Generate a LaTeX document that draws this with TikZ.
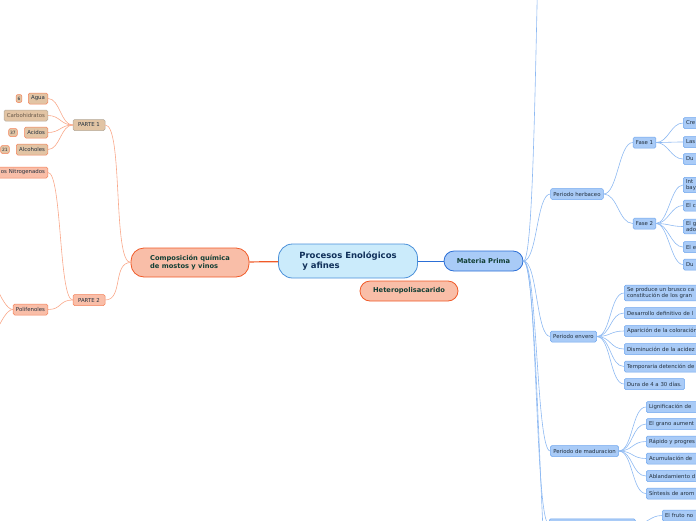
\documentclass[tikz,border=0pt]{standalone}
\usepackage{fontspec}
\setmainfont{DejaVu Sans}
\usetikzlibrary{positioning}
\definecolor{centrefill}{HTML}{CBEBFB}
\definecolor{centreline}{HTML}{4A90D9}
\definecolor{navytext}{HTML}{10305A}
\definecolor{greentext}{HTML}{123F35}
\definecolor{inktext}{HTML}{22303E}
\definecolor{bluefill}{HTML}{A9CBF7}
\definecolor{blueline}{HTML}{6EA6EE}
\definecolor{bluelink}{HTML}{8DB9F2}
\definecolor{bluedark}{HTML}{2C6FD6}
\definecolor{salfill}{HTML}{F9BEA8}
\definecolor{salline}{HTML}{F4825A}
\definecolor{sallink}{HTML}{F9A88A}
\definecolor{saldark}{HTML}{F05A28}
\definecolor{tanfill}{HTML}{E2C4A4}
\definecolor{tanline}{HTML}{B4A898}
\definecolor{graytext}{HTML}{6A5A4A}

\begin{document}
\begin{tikzpicture}[x=1pt,y=-1pt,
  central/.style={rectangle,draw=centreline,line width=0.8pt,fill=centrefill,rounded corners=14pt,minimum width=139pt,minimum height=34pt,align=left,text=navytext,font=\fontsize{8.5}{10.5}\selectfont\bfseries},
  mainTok/.style={rectangle,rounded corners=10pt,minimum height=20pt,line width=0.8pt,text=greentext,font=\fontsize{6.7}{8.2}\selectfont\bfseries},
  bluTok/.style={rectangle,draw=blueline,fill=bluefill,rounded corners=1.5pt,minimum height=11pt,inner xsep=2.8pt,inner ysep=2pt,line width=0.5pt,text=inktext,font=\fontsize{5.4}{6.4}\selectfont},
  cutTok/.style={bluTok,anchor=west,text width=60pt,align=left},
  salTok/.style={rectangle,draw=salline,fill=salfill,rounded corners=1.5pt,minimum height=11pt,inner xsep=2.8pt,inner ysep=2pt,line width=0.5pt,text=inktext,font=\fontsize{5.4}{6.4}\selectfont},
  tanTok/.style={salTok,fill=tanfill},
  numTok/.style={salTok,fill=tanfill,rounded corners=2pt,minimum height=8pt,inner xsep=1.5pt,inner ysep=1pt,font=\fontsize{4.4}{5}\selectfont},
  blueLink/.style={draw=bluelink,line width=0.6pt},
  salLink/.style={draw=sallink,line width=0.6pt}
]
\useasboundingbox (0,0) rectangle (696,520);
\clip (0,0) rectangle (696,520);

\node[central] (proc) at (348,261) {Procesos Enológicos\\\hspace{3pt}y afines};
\node[mainTok,draw=bluedark,fill=bluefill,minimum width=79pt] (mat) at (483.5,261) {Materia Prima};
\node[mainTok,draw=saldark,fill=salfill,minimum width=98pt] (het) at (409,291) {Heteropolisacarido};
\node[mainTok,draw=saldark,fill=salfill,minimum width=118pt,minimum height=29pt,rounded corners=13pt,align=left] (comp) at (190,262.5) {Composición química\\de mostos y vinos};
\draw[draw=bluedark,line width=0.9pt] (proc) -- (mat);
\draw[draw=saldark,line width=1.2pt] (proc) -- (comp);

\node[tanTok,draw=tanline,minimum width=32pt] (p1) at (89,125) {PARTE 1};
\node[salTok,minimum width=32pt] (p2) at (89,300) {PARTE 2};
\draw[salLink] (comp.west) .. controls +(-18,0) and +(18,0) .. (p1.east);
\draw[salLink] (comp.west) .. controls +(-18,0) and +(18,0) .. (p2.east);

\node[tanTok,anchor=east] (agua) at (48,98.5) {Agua};
\node[tanTok,draw=tanline,text=graytext,anchor=east] (carb) at (48,115.5) {Carbohidratos};
\node[tanTok,anchor=east] (acid) at (48,132.5) {Acidos};
\node[tanTok,anchor=east] (alc) at (48,149.5) {Alcoholes};
\node[numTok] (n6) at (19,98.5) {6};
\node[numTok] (n37) at (13,132.5) {37};
\node[numTok] (n21) at (5,149.5) {21};
\draw[salLink] (p1.west) .. controls +(-12,0) and +(12,0) .. (agua.east);
\draw[salLink] (p1.west) .. controls +(-12,0) and +(12,0) .. (carb.east);
\draw[salLink] (p1.west) .. controls +(-12,0) and +(12,0) .. (acid.east);
\draw[salLink] (p1.west) .. controls +(-12,0) and +(12,0) .. (alc.east);

\node[salTok,anchor=east,text width=62pt,align=right] (nitro) at (48,172.5) {os Nitrogenados};
\node[salTok,anchor=east] (poli) at (48,309.5) {Polifenoles};
\coordinate (poliUp) at (-22,262);
\coordinate (poliDown) at (-22,356);
\draw[salLink] (p2.west) .. controls +(-14,0) and +(14,0) .. (nitro.east);
\draw[salLink] (p2.west) .. controls +(-14,0) and +(14,0) .. (poli.east);
\draw[salLink] (poli.west) .. controls +(-12,0) and +(12,0) .. (poliUp);
\draw[salLink] (poli.west) .. controls +(-12,0) and +(12,0) .. (poliDown);

\node[bluTok] (herb) at (577,194) {Periodo herbaceo};
\node[bluTok] (env) at (573.5,336.5) {Periodo envero};
\node[bluTok] (mad) at (584.5,451) {Periodo de maduracion};
\node[bluTok,anchor=north west,minimum width=86pt] (last) at (549,518.5) {};
\coordinate (matUp) at (550,-220);
\coordinate (matDown) at (556,650);
\draw[blueLink] (mat.east) .. controls +(16,0) and +(-16,0) .. (matUp);
\draw[blueLink] (mat.east) .. controls +(14,0) and +(-14,0) .. (herb.west);
\draw[blueLink] (mat.east) .. controls +(14,0) and +(-14,0) .. (env.west);
\draw[blueLink] (mat.east) .. controls +(14,0) and +(-14,0) .. (mad.west);
\draw[blueLink] (mat.east) .. controls +(14,0) and +(-14,0) .. (last.west);
\draw[blueLink] (mat.east) .. controls +(16,0) and +(-16,0) .. (matDown);

\node[bluTok] (f1) at (644.5,142.5) {Fase 1};
\node[bluTok] (f2) at (644.5,223.5) {Fase 2};
\draw[blueLink] (herb.east) .. controls +(14,0) and +(-14,0) .. (f1.west);
\draw[blueLink] (herb.east) .. controls +(14,0) and +(-14,0) .. (f2.west);

\node[cutTok] (cre) at (683,123) {Cre};
\node[cutTok] (las) at (683,142) {Las};
\node[cutTok] (du1) at (683,159) {Du};
\draw[blueLink] (f1.east) .. controls +(12,0) and +(-12,0) .. (cre.west);
\draw[blueLink] (f1.east) .. controls +(12,0) and +(-12,0) .. (las.west);
\draw[blueLink] (f1.east) .. controls +(12,0) and +(-12,0) .. (du1.west);

\node[cutTok] (int) at (683,185) {Int\\bay};
\node[cutTok] (elc) at (683,205.5) {El c};
\node[cutTok] (elg) at (683,226.5) {El g\\ado};
\node[cutTok] (ele) at (683,247) {El e};
\node[cutTok] (du2) at (683,264.5) {Du};
\draw[blueLink] (f2.east) .. controls +(12,0) and +(-12,0) .. (int.west);
\draw[blueLink] (f2.east) .. controls +(12,0) and +(-12,0) .. (elc.west);
\draw[blueLink] (f2.east) .. controls +(12,0) and +(-12,0) .. (elg.west);
\draw[blueLink] (f2.east) .. controls +(12,0) and +(-12,0) .. (ele.west);
\draw[blueLink] (f2.east) .. controls +(12,0) and +(-12,0) .. (du2.west);

\node[cutTok,text width=90pt] (e1) at (624,293) {Se produce un brusco ca\\constitución de los gran};
\node[cutTok,text width=90pt] (e2) at (624,313) {Desarrollo definitivo de l};
\node[cutTok,text width=90pt] (e3) at (624,331) {Aparición de la coloración};
\node[cutTok,text width=90pt] (e4) at (624,349) {Disminución de la acidez};
\node[cutTok,text width=90pt] (e5) at (624,366.5) {Temporaria detención de};
\node[bluTok,anchor=west] (e6) at (624,384) {Dura de 4 a 30 días.};
\draw[blueLink] (env.east) .. controls +(14,0) and +(-14,0) .. (e1.west);
\draw[blueLink] (env.east) .. controls +(14,0) and +(-14,0) .. (e2.west);
\draw[blueLink] (env.east) .. controls +(14,0) and +(-14,0) .. (e3.west);
\draw[blueLink] (env.east) .. controls +(14,0) and +(-14,0) .. (e4.west);
\draw[blueLink] (env.east) .. controls +(14,0) and +(-14,0) .. (e5.west);
\draw[blueLink] (env.east) .. controls +(14,0) and +(-14,0) .. (e6.west);

\node[cutTok] (m1) at (646,407) {Lignificación de};
\node[cutTok] (m2) at (646,424) {El grano aument};
\node[cutTok] (m3) at (646,441.5) {Rápido y progres};
\node[cutTok] (m4) at (646,458.5) {Acumulación de};
\node[cutTok] (m5) at (646,476) {Ablandamiento d};
\node[cutTok] (m6) at (646,493.5) {Síntesis de arom};
\draw[blueLink] (mad.east) .. controls +(14,0) and +(-14,0) .. (m1.west);
\draw[blueLink] (mad.east) .. controls +(14,0) and +(-14,0) .. (m2.west);
\draw[blueLink] (mad.east) .. controls +(14,0) and +(-14,0) .. (m3.west);
\draw[blueLink] (mad.east) .. controls +(14,0) and +(-14,0) .. (m4.west);
\draw[blueLink] (mad.east) .. controls +(14,0) and +(-14,0) .. (m5.west);
\draw[blueLink] (mad.east) .. controls +(14,0) and +(-14,0) .. (m6.west);

\node[cutTok] (fru) at (662,515.5) {El fruto no};
\draw[blueLink] (last.east) .. controls +(12,0) and +(-12,0) .. (fru.west);
\end{tikzpicture}
\end{document}
